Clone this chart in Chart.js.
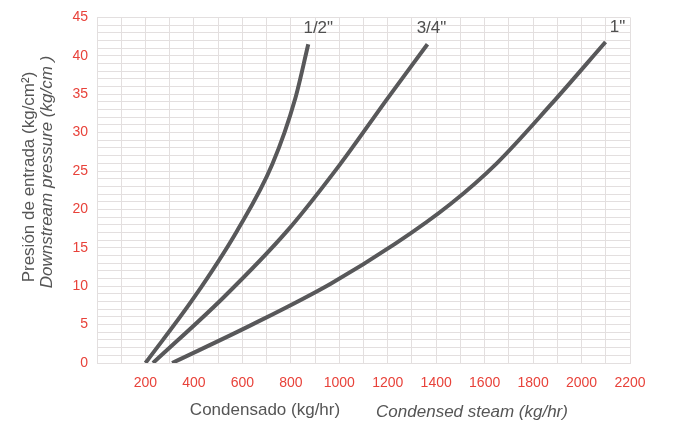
<!DOCTYPE html>
<html>
<head>
<meta charset="utf-8">
<script src="https://cdn.jsdelivr.net/npm/chart.js@4/dist/chart.umd.min.js"></script>
<style>
  html, body { margin: 0; padding: 0; background: #fff; }
  #wrap { width: 673px; height: 423px; position: relative; }
</style>
</head>
<body>
<div id="wrap"><canvas id="c" width="673" height="423"></canvas></div>
<script>
// Data (x = condensed steam kg/hr, y = pressure kg/cm²)
const seriesNames = ['1/2"', '3/4"', '1"'];
const halfInchX = [200, 400, 578, 724, 818, 872];
const halfInchY = [0, 8.5, 17.2, 25.9, 34.4, 41.5];
const threeQuarterX = [231, 521, 785, 1004, 1198, 1364];
const threeQuarterY = [0, 8.5, 17.2, 25.9, 34.4, 41.5];
const oneInchX = [310, 640, 963, 1230, 1459, 1650, 1872, 2099];
const oneInchY = [0, 5, 10.3, 15.5, 20.7, 26, 33.6, 41.8];
const xTickLabels = [200, 400, 600, 800, 1000, 1200, 1400, 1600, 1800, 2000, 2200];
const yTickLabels = [0, 5, 10, 15, 20, 25, 30, 35, 40, 45];

const xs = [halfInchX, threeQuarterX, oneInchX];
const ys = [halfInchY, threeQuarterY, oneInchY];

const datasets = seriesNames.map((name, i) => ({
  label: name,
  data: xs[i].map((x, j) => ({ x: x, y: ys[i][j] })),
  borderColor: '#58585a',
  borderWidth: 4,
  pointRadius: 0,
  tension: 0.4,
  cubicInterpolationMode: 'monotone',
  fill: false
}));

const labelOffsets = [[10, -16], [4, -16], [12, -15]];

const decor = {
  id: 'decor',
  afterDatasetsDraw(chart) {
    const ctx = chart.ctx;
    ctx.save();
    ctx.fillStyle = '#4f4f4f';
    ctx.font = '17px "Liberation Sans", Arial, sans-serif';
    ctx.textAlign = 'center';
    ctx.textBaseline = 'middle';
    chart.data.datasets.forEach((ds, i) => {
      const meta = chart.getDatasetMeta(i);
      const p = meta.data[meta.data.length - 1];
      ctx.fillText(ds.label, p.x + labelOffsets[i][0], p.y + labelOffsets[i][1]);
    });
    // X titles
    ctx.fillStyle = '#555';
    ctx.font = '17px "Liberation Sans", Arial, sans-serif';
    ctx.fillText('Condensado (kg/hr)', 265, 410);
    ctx.font = 'italic 17px "Liberation Sans", Arial, sans-serif';
    ctx.fillText('Condensed steam (kg/hr)', 472, 412);
    // Y titles
    ctx.save();
    ctx.translate(29, 177);
    ctx.rotate(-Math.PI / 2);
    ctx.font = '17px "Liberation Sans", Arial, sans-serif';
    ctx.fillText('Presión de entrada (kg/cm²)', 0, 0);
    ctx.restore();
    ctx.save();
    ctx.translate(47, 172);
    ctx.rotate(-Math.PI / 2);
    ctx.font = 'italic 17px "Liberation Sans", Arial, sans-serif';
    ctx.fillText('Downstream pressure (kg/cm )', 0, 0);
    ctx.restore();
    ctx.restore();
  }
};

new Chart(document.getElementById('c'), {
  type: 'line',
  data: { datasets },
  options: {
    responsive: false,
    animation: false,
    layout: { padding: { left: 0, right: 43, top: 15, bottom: 0 } },
    plugins: { legend: { display: false }, tooltip: { enabled: false } },
    scales: {
      x: {
        type: 'linear',
        min: 0,
        max: 2200,
        afterFit(s) { s.height = 60; },
        grid: { color: '#e3dfdf', lineWidth: 1, drawTicks: false },
        border: { color: '#e3dfdf' },
        ticks: {
          stepSize: 100,
          autoSkip: false,
          maxRotation: 0,
          padding: 12,
          color: '#e8423a',
          font: { family: '"Liberation Sans", Arial, sans-serif', size: 14 },
          callback: (v) => xTickLabels.includes(v) ? String(v) : ''
        }
      },
      y: {
        type: 'linear',
        min: 0,
        max: 45,
        afterFit(s) { s.width = 97; },
        grid: { color: '#e3dfdf', lineWidth: 1, drawTicks: false },
        border: { color: '#e3dfdf' },
        ticks: {
          stepSize: 1,
          autoSkip: false,
          padding: 9,
          color: '#e8423a',
          font: { family: '"Liberation Sans", Arial, sans-serif', size: 14 },
          callback: (v) => yTickLabels.includes(v) ? String(v) : ''
        }
      }
    }
  },
  plugins: [decor]
});
</script>
</body>
</html>
